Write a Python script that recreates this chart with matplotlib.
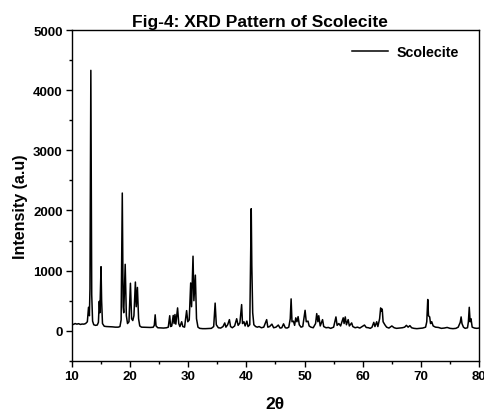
import matplotlib
matplotlib.use("Agg")
import matplotlib.pyplot as plt
import matplotlib.ticker as mtick

plt.rcParams['font.family'] = ['Liberation Sans', 'DejaVu Sans']
plt.rcParams['font.weight'] = 'bold'

# XRD pattern: 2theta (deg), intensity (a.u)
two_theta = [
    10.0, 10.3, 10.6, 10.9, 11.2, 11.5, 11.8, 12.1, 12.4, 12.7, 12.9, 13.05, 13.15, 13.3, 13.45, 13.6, 13.8,
    14.1, 14.4, 14.6, 14.75, 14.85, 14.95, 15.05, 15.15, 15.3, 15.6, 16.0, 16.5, 17.0, 17.5, 18.0, 18.3,
    18.5, 18.7, 18.85, 18.95, 19.2, 19.4, 19.6, 19.85, 20.1, 20.3, 20.5, 20.7, 20.95, 21.1, 21.3, 21.5,
    21.7, 22.0, 22.5, 23.0, 23.5, 24.0, 24.2, 24.35, 24.5, 24.8, 25.3, 25.8, 26.3, 26.6, 26.85, 27.0,
    27.2, 27.45, 27.6, 27.75, 27.9, 28.2, 28.4, 28.6, 28.9, 29.1, 29.4, 29.75, 29.95, 30.2, 30.45, 30.6,
    30.85, 31.0, 31.25, 31.45, 31.7, 32.0, 32.5, 33.0, 33.5, 34.0, 34.4, 34.65, 34.85, 35.2, 35.6, 36.0,
    36.3, 36.5, 36.8, 37.1, 37.3, 37.6, 38.0, 38.35, 38.6, 38.9, 39.2, 39.35, 39.6, 39.8, 40.1, 40.3,
    40.6, 40.85, 40.95, 41.1, 41.3, 41.6, 41.9, 42.2, 42.6, 43.0, 43.5, 43.7, 44.0, 44.4, 44.7, 45.1,
    45.5, 45.8, 46.1, 46.4, 46.7, 47.0, 47.3, 47.55, 47.7, 47.85, 48.1, 48.3, 48.5, 48.7, 48.9, 49.1,
    49.4, 49.7, 50.1, 50.3, 50.6, 50.8, 51.1, 51.5, 51.9, 52.1, 52.3, 52.45, 52.7, 53.1, 53.3, 53.7,
    54.1, 54.5, 55.0, 55.4, 55.6, 55.9, 56.2, 56.4, 56.65, 56.8, 57.0, 57.2, 57.5, 57.7, 58.1, 58.3,
    58.7, 59.1, 59.5, 59.9, 60.3, 60.6, 61.0, 61.3, 61.6, 61.9, 62.1, 62.4, 62.6, 62.9, 63.08, 63.2,
    63.35, 63.5, 63.8, 64.1, 64.5, 65.0, 65.4, 65.8, 66.3, 66.8, 67.2, 67.5, 67.8, 68.1, 68.4, 68.8,
    69.3, 69.8, 70.3, 70.8, 71.0, 71.17, 71.3, 71.5, 71.65, 71.85, 72.1, 72.5, 73.0, 73.5, 74.0, 74.5,
    75.0, 75.5, 76.0, 76.4, 76.75, 76.9, 77.05, 77.3, 77.6, 78.0, 78.15, 78.3, 78.45, 78.6, 78.8, 79.2,
    79.6, 80.0,
]
intensity = [
    115, 105, 120, 110, 118, 105, 112, 110, 120, 150, 390, 250, 700, 4330, 600, 160, 100,
    90, 95, 140, 490, 300, 700, 1065, 500, 120, 75, 70, 68, 65, 60, 60, 70,
    180, 2290, 400, 300, 1105, 250, 120, 150, 790, 200, 170, 250, 810, 400, 720, 200,
    80, 60, 58, 55, 55, 58, 90, 265, 80, 50, 48, 45, 50, 60, 250, 70,
    80, 255, 120, 270, 110, 380, 120, 70, 150, 70, 60, 335, 150, 180, 795, 400,
    1240, 500, 925, 200, 60, 40, 35, 35, 38, 40, 70, 460, 100, 50, 45, 70,
    130, 60, 100, 185, 70, 50, 80, 200, 90, 130, 435, 120, 150, 80, 160, 70,
    100, 2030, 1080, 300, 100, 70, 60, 70, 50, 60, 185, 60, 70, 110, 50, 60,
    95, 45, 50, 115, 50, 45, 60, 200, 530, 150, 160, 90, 215, 150, 235, 100,
    60, 70, 340, 150, 160, 80, 60, 50, 120, 285, 150, 250, 80, 185, 70, 50,
    55, 40, 60, 230, 90, 120, 80, 140, 215, 120, 230, 100, 185, 80, 130, 70,
    50, 60, 45, 70, 95, 55, 50, 40, 60, 140, 70, 150, 70, 200, 380, 330,
    360, 150, 100, 60, 45, 80, 50, 40, 45, 50, 60, 90, 60, 85, 50, 40,
    35, 40, 45, 60, 150, 520, 250, 230, 120, 150, 80, 60, 55, 40, 45, 55,
    40, 35, 40, 60, 140, 230, 120, 60, 40, 50, 150, 390, 150, 200, 60, 45,
    40, 45,
]

fig = plt.figure(figsize=(4.84, 4.14), dpi=100)
ax = fig.add_axes([0.148, 0.126, 0.842, 0.799])

ax.plot(two_theta, intensity, color='black', linewidth=1.1, label='Scolecite')

ax.set_xlim(10, 80)
ax.set_ylim(-500, 5000)
ax.xaxis.set_major_locator(mtick.MultipleLocator(10))
ax.xaxis.set_minor_locator(mtick.MultipleLocator(5))
ax.yaxis.set_major_locator(mtick.MultipleLocator(1000))
ax.yaxis.set_minor_locator(mtick.MultipleLocator(500))
ax.tick_params(which='both', direction='out', top=False, right=False, labelsize=9.5, width=1, pad=2.5)
ax.tick_params(which='major', length=4)
ax.tick_params(which='minor', length=2.5)
for s in ax.spines.values():
    s.set_linewidth(1.0)

ax.set_title('Fig-4: XRD Pattern of Scolecite', fontsize=12.5, fontweight='bold', pad=3, x=0.463)
ax.set_xlabel('2θ', fontsize=12.5, fontweight='bold', labelpad=10)
ax.set_ylabel('Intensity (a.u)', fontsize=11.5, fontweight='bold')
ax.yaxis.set_label_coords(-0.108, 0.47)

leg = ax.legend(loc='upper right', frameon=False, fontsize=10.3, handlelength=2.5,
                handletextpad=0.6, bbox_to_anchor=(0.975, 0.985), borderaxespad=0.3)
leg.get_texts()[0].set_fontweight('bold')

fig.savefig('out.png', dpi=100)
